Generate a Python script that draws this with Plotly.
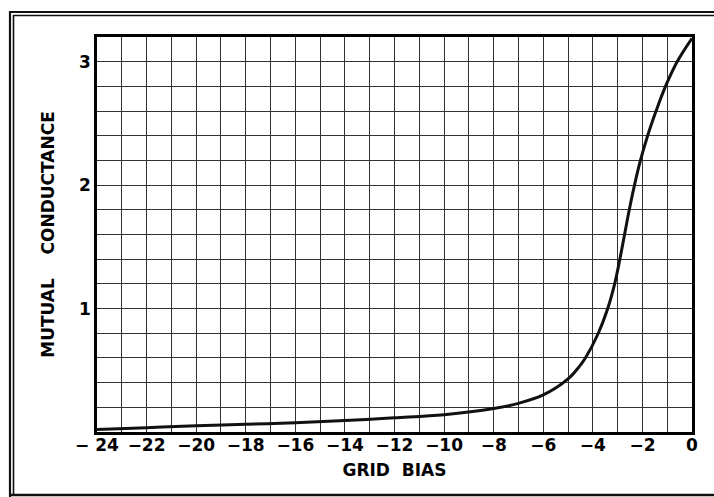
import plotly.graph_objects as go

# Mutual conductance versus grid bias (volts)
grid_bias = [-24, -22, -20, -18, -16, -14, -12, -10, -8, -7, -6, -5, -4.55,
             -4.3, -3.78, -3.4, -3.12, -2.91, -2.72, -2.53, -2.32, -2.08,
             -1.79, -1.45, -1.07, -0.6, 0]
conductance = [0.02, 0.035, 0.05, 0.062, 0.075, 0.093, 0.115, 0.14, 0.19, 0.232,
               0.30, 0.43, 0.53, 0.6, 0.8, 1.0, 1.2, 1.4, 1.6, 1.8, 2.0,
               2.2, 2.4, 2.6, 2.8, 3.0, 3.19]

x_tick_vals = [-24, -22, -20, -18, -16, -14, -12, -10, -8, -6, -4, -2, 0]
x_tick_text = ["\u2212\u00a024", "\u221222", "\u221220", "\u221218", "\u221216",
               "\u221214", "\u221212", "\u221210", "\u22128", "\u22126",
               "\u22124", "\u22122", "0"]
y_tick_vals = [1, 2, 3]
y_tick_text = ["1", "2", "3"]

W, H = 714, 497
ML, MR, MT, MB = 97, 22, 37, 65
PW, PH = W - ML - MR, H - MT - MB

FONT = dict(family="DejaVu Sans", size=17, color="black", weight="bold")
GRID = "#333333"

fig = go.Figure()
fig.add_trace(go.Scatter(
    x=grid_bias, y=conductance, mode="lines",
    line=dict(color="#111111", width=3, shape="spline", smoothing=1.0),
    hoverinfo="skip", showlegend=False,
))


def px(x):
    return (x - ML) / PW


def py(y):
    return (H - MB - y) / PH


# double-ruled outer frame
frame = [
    (10, 11, 10, 497, 2.2),
    (13.5, 15, 13.5, 494, 1.6),
    (10, 12, 714, 12, 2.2),
    (13.5, 15.5, 714, 15.5, 1.6),
    (10, 495, 714, 495, 2.4),
]
shapes = []
for x0, y0, x1, y1, w in frame:
    shapes.append(dict(type="line", xref="paper", yref="paper",
                       x0=px(x0), y0=py(y0), x1=px(x1), y1=py(y1),
                       line=dict(color="#111111", width=w)))

fig.update_layout(
    width=W, height=H,
    margin=dict(l=ML, r=MR, t=MT, b=MB),
    paper_bgcolor="white", plot_bgcolor="white",
    font=FONT,
    shapes=shapes,
    xaxis=dict(
        range=[-24, 0], tickvals=x_tick_vals, ticktext=x_tick_text,
        ticks="", showgrid=True, gridcolor=GRID, gridwidth=1.4,
        minor=dict(dtick=1, tick0=0, showgrid=True, gridcolor=GRID, gridwidth=1.4),
        showline=True, linecolor="black", linewidth=2.5, mirror=True,
        zeroline=False, tickfont=FONT, ticklabelstandoff=-4,
        title=dict(text="GRID\u00a0\u00a0BIAS", font=FONT, standoff=10),
    ),
    yaxis=dict(
        range=[0, 3.2], tickvals=y_tick_vals, ticktext=y_tick_text,
        ticks="", showgrid=True, gridcolor=GRID, gridwidth=1.4,
        minor=dict(dtick=0.2, tick0=0, showgrid=True, gridcolor=GRID, gridwidth=1.4),
        showline=True, linecolor="black", linewidth=2.5, mirror=True,
        zeroline=False, tickfont=FONT, ticklabelstandoff=0,
        title=dict(text="MUTUAL\u00a0\u00a0\u00a0\u00a0CONDUCTANCE", font=FONT, standoff=21),
    ),
)

fig.write_html("out.html")
